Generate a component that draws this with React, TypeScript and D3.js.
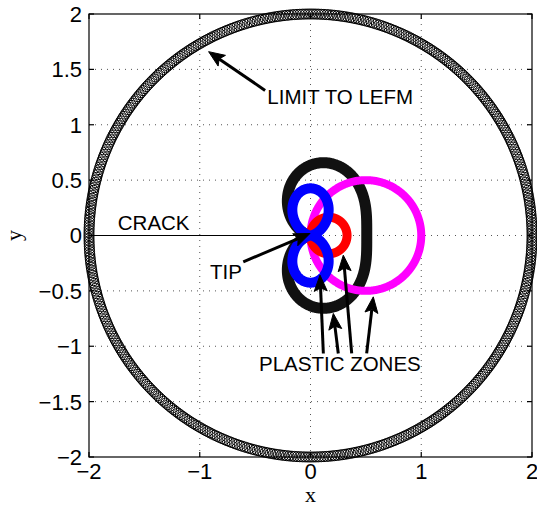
import * as d3 from "d3";

// axis ticks
const xTicks = [-2, -1, 0, 1, 2];
const yTicks = [-2, -1.5, -1, -0.5, 0, 0.5, 1, 1.5, 2];
const gridX = [-1, 0, 1];
const gridY = [-1.5, -1, -0.5, 0, 0.5, 1, 1.5];

// zone parameters (data units)
const lefmRadius = 2;
const lefmMarkers = 520;
const blackZoneScale = 0.254; // r = c (1 + cos t + 1.5 sin^2 t)
const blueLobeSize = 0.426; // r = a sin^2 t
const magentaCircle = [0.5, 0, 0.5]; // cx, cy, r
const redCircle = [0.165, 0, 0.165];
const crackLine = [[-2, 0], [0, 0]];

// annotations: [text, x, y]
const labels = [
  ["LIMIT TO LEFM", -0.39, 1.185],
  ["CRACK", -1.74, 0.054],
  ["TIP", -0.907, -0.395],
  ["PLASTIC ZONES", -0.465, -1.225],
];
// arrows: [tailX, tailY, tipX, tipY]
const arrows = [
  [-0.41, 1.31, -0.92, 1.66],
  [-0.607, -0.238, -0.005, 0.018],
  [0.116, -1.065, 0.086, -0.358],
  [0.251, -1.065, 0.206, -0.704],
  [0.372, -1.065, 0.296, -0.178],
  [0.507, -1.065, 0.567, -0.554],
];

const W = 537;
const H = 508;
const sans = "'Liberation Sans', Arial, Helvetica, sans-serif";
const serif = "'Liberation Serif', 'Times New Roman', serif";

const App = () => {
  const x = d3.scaleLinear().domain([-2, 2]).range([89, 532]);
  const y = d3.scaleLinear().domain([-2, 2]).range([457, 14]);
  const line = d3.line<number[]>().x((d) => x(d[0])).y((d) => y(d[1]));

  const angles = d3.range(0, 721).map((i) => (i / 720) * 2 * Math.PI);
  const polar = (f: (t: number) => number) =>
    angles.map((t) => [f(t) * Math.cos(t), f(t) * Math.sin(t)]);
  const circle = (c: number[]) =>
    angles.map((t) => [c[0] + c[2] * Math.cos(t), c[1] + c[2] * Math.sin(t)]);

  const blackPts = polar((t) => blackZoneScale * (1 + Math.cos(t) + 1.5 * Math.sin(t) ** 2));
  const bluePts = polar((t) => blueLobeSize * Math.sin(t) ** 2);
  const lefmPts = d3.range(lefmMarkers).map((i) => {
    const t = (i / lefmMarkers) * 2 * Math.PI;
    return [lefmRadius * Math.cos(t), lefmRadius * Math.sin(t)];
  });

  const [x0, x1] = x.range();
  const [y0, y1] = y.range();

  const arrowEl = (a: number[], i: number) => {
    const tx = x(a[0]), ty = y(a[1]), hx = x(a[2]), hy = y(a[3]);
    const ang = Math.atan2(hy - ty, hx - tx);
    const L = 16, w = 6.5;
    const ux = Math.cos(ang), uy = Math.sin(ang);
    const bx = hx - ux * L, by = hy - uy * L;
    const nx = hx - ux * L * 0.8, ny = hy - uy * L * 0.8;
    const p = `M${hx},${hy}L${bx - uy * w},${by + ux * w}L${nx},${ny}L${bx + uy * w},${by - ux * w}Z`;
    return (
      <g key={i}>
        <line x1={tx} y1={ty} x2={nx} y2={ny} stroke="#000" strokeWidth={3} />
        <path d={p} fill="#000" stroke="#000" strokeWidth={1} strokeLinejoin="miter" />
      </g>
    );
  };

  return (
    <svg width={W} height={H} style={{ position: "absolute", left: 0, top: 0, background: "#fff" }}>
      <rect width={W} height={H} fill="#fff" />
      {/* grid */}
      <g stroke="#555" strokeWidth={1} strokeDasharray="1,5">
        {gridX.map((v) => (
          <line key={"gx" + v} x1={x(v)} x2={x(v)} y1={y0} y2={y1} />
        ))}
        {gridY.map((v) => (
          <line key={"gy" + v} x1={x0} x2={x1} y1={y(v)} y2={y(v)} />
        ))}
      </g>
      {/* box and ticks */}
      <g stroke="#000" strokeWidth={1.2} fill="none">
        <rect x={x0} y={y1} width={x1 - x0} height={y0 - y1} />
        {xTicks.map((v) => (
          <g key={"xt" + v}>
            <line x1={x(v)} x2={x(v)} y1={y0} y2={y0 - 5} />
            <line x1={x(v)} x2={x(v)} y1={y1} y2={y1 + 5} />
          </g>
        ))}
        {yTicks.map((v) => (
          <g key={"yt" + v}>
            <line x1={x0} x2={x0 + 5} y1={y(v)} y2={y(v)} />
            <line x1={x1} x2={x1 - 5} y1={y(v)} y2={y(v)} />
          </g>
        ))}
      </g>
      <g fontFamily={sans} fontSize={22} fill="#000">
        {xTicks.map((v) => (
          <text key={"xl" + v} x={x(v)} y={y0 + 22} textAnchor="middle">
            {v < 0 ? "\u2212" + Math.abs(v) : String(v)}
          </text>
        ))}
        {yTicks.map((v) => (
          <text key={"yl" + v} x={x0 - 7} y={y(v)} dy="0.36em" textAnchor="end">
            {v < 0 ? "\u2212" + Math.abs(v) : String(v)}
          </text>
        ))}
      </g>
      <text x={x(0)} y={502} textAnchor="middle" fontFamily={serif} fontSize={22}>
        x
      </text>
      <text transform={`translate(21,${y(0)}) rotate(-90)`} textAnchor="middle" fontFamily={serif} fontSize={22}>
        y
      </text>

      {/* crack */}
      <path d={line(crackLine) ?? ""} stroke="#000" strokeWidth={1.2} fill="none" />
      {/* LEFM limit drawn with circle markers */}
      <g fill="none" stroke="#000" strokeWidth={1}>
        {lefmPts.map((p, i) => (
          <circle key={i} cx={x(p[0])} cy={y(p[1])} r={5} />
        ))}
      </g>
      {/* plastic zones */}
      <path d={line(blackPts) ?? ""} stroke="#111" strokeWidth={11} fill="none" />
      <path d={line(circle(magentaCircle)) ?? ""} stroke="#ff00ff" strokeWidth={8} fill="none" />
      <path d={line(circle(redCircle)) ?? ""} stroke="#ff0000" strokeWidth={9} fill="none" />
      <path d={line(bluePts) ?? ""} stroke="#0000ff" strokeWidth={10} fill="none" />

      {/* annotations */}
      {arrows.map(arrowEl)}
      <g fontFamily={sans} fontSize={20.5} fill="#000">
        {labels.map((l) => (
          <text key={l[0] as string} x={x(l[1] as number)} y={y(l[2] as number)}>
            {l[0]}
          </text>
        ))}
      </g>
    </svg>
  );
};

export default App;
